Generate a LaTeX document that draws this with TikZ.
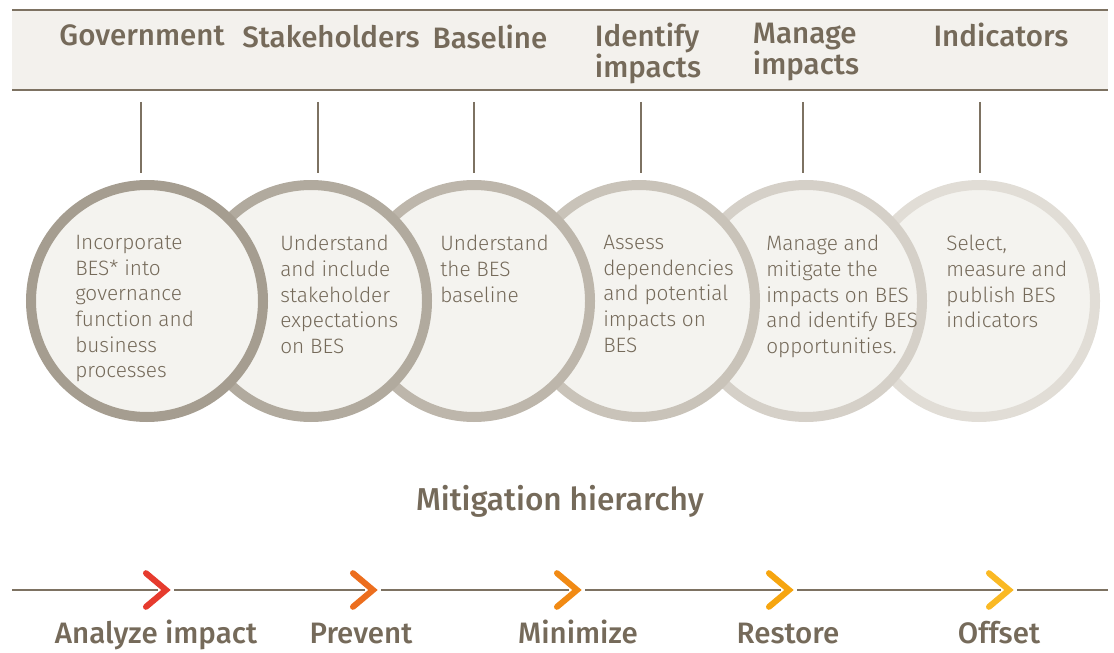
\documentclass[tikz,border=0pt]{standalone}
\usepackage{fontspec}
\setmainfont{Fira Sans}
\newfontfamily\besheadfont{Fira Sans Medium}
\newfontfamily\besbodyfont{Fira Sans Light}
\usepackage{tikz}
\usetikzlibrary{positioning}
\definecolor{besText}{HTML}{756A5A}
\definecolor{besRule}{HTML}{7D7262}
\definecolor{besBand}{HTML}{F3F1ED}
\definecolor{besFill}{HTML}{F4F3EF}
\definecolor{besRingA}{HTML}{A59D90}
\definecolor{besRingB}{HTML}{B1AA9E}
\definecolor{besRingC}{HTML}{BDB6AB}
\definecolor{besRingD}{HTML}{C9C3B9}
\definecolor{besRingE}{HTML}{D5D0C8}
\definecolor{besRingF}{HTML}{E1DDD6}
\definecolor{besChevA}{HTML}{E63B2E}
\definecolor{besChevB}{HTML}{EC6E1E}
\definecolor{besChevC}{HTML}{F18A14}
\definecolor{besChevD}{HTML}{F6A50F}
\definecolor{besChevE}{HTML}{FAB924}
\tikzset{
  beshead/.style={font=\besheadfont\fontsize{21}{20}\selectfont,text=besText,
                  inner sep=0pt,align=left},
  besbody/.style={font=\besbodyfont\fontsize{14.8}{18.2}\selectfont,
                  text=besText,inner sep=0pt,align=left,anchor=north west},
  besring/.style={circle,minimum size=5.8cm,line width=0.25cm,fill=besFill,
                  inner sep=0pt},
  bestick/.style={besRule,line width=1.1pt},
  besrule/.style={besRule,line width=1.4pt},
  beschev/.style={line width=4.3pt,line cap=round,line join=miter}
}

\begin{document}
\begin{tikzpicture}[x=1cm,y=1cm]
    \useasboundingbox (0,0) rectangle (27.85,16.3);

    % header band
    \fill[besBand] (0.3,14.05) rectangle (27.7,16.05);
    \draw[besrule,line width=1.1pt] (0.3,16.05) -- (27.7,16.05);
    \draw[besrule,line width=1.6pt] (0.3,14.05) -- (27.7,14.05);

    \node[beshead,anchor=north] (hgov) at (3.55,15.68) {Government};
    \node[beshead,anchor=north] (hstake) at (8.275,15.68) {Stakeholders};
    \node[beshead,anchor=north] (hbase) at (12.25,15.68) {Baseline};
    \node[beshead,anchor=north] (hident) at (16.2,15.73)
      {Identify\\impacts};
    \node[beshead,anchor=north] (hmanage) at (20.15,15.73)
      {Manage\\impacts};
    \node[beshead,anchor=north] (hind) at (25.025,15.73) {Indicators};

    \foreach \x in {3.525,7.95,11.85,16.025,20.075,24.5}
      \draw[bestick] (\x,13.75) -- (\x,11.975);

    % circles, last one at the back
    \node[besring,draw=besRingF] (c6) at (24.475,8.775) {};
    \node[besring,draw=besRingE] (c5) at (20.15,8.775) {};
    \node[besring,draw=besRingD] (c4) at (15.975,8.775) {};
    \node[besring,draw=besRingC] (c3) at (11.85,8.775) {};
    \node[besring,draw=besRingB] (c2) at (7.775,8.775) {};
    \node[besring,draw=besRingA] (c1) at (3.675,8.775) {};

    \node[besbody] (t1) at (1.875,10.42)
      {Incorporate\\BES* into\\governance\\function and\\business\\processes};
    \node[besbody] (t2) at (7.0,10.42)
      {Understand\\and include\\stakeholder\\expectations\\on BES};
    \node[besbody] (t3) at (11.0,10.42)
      {Understand\\the BES\\baseline};
    \node[besbody] (t4) at (15.075,10.42)
      {Assess\\dependencies\\and potential\\impacts on\\BES};
    \node[besbody] (t5) at (19.15,10.42)
      {Manage and\\mitigate the\\impacts on BES\\and identify BES\\opportunities.};
    \node[besbody] (t6) at (23.65,10.42)
      {Select,\\measure and\\publish BES\\indicators};

    % mitigation hierarchy
    \node[beshead,anchor=base,font=\besheadfont\fontsize{22.5}{24}\selectfont]
      (mh) at (14.0,3.55) {Mitigation hierarchy};

    \coordinate (lstart) at (0.3,1.55);
    \coordinate (lend) at (27.7,1.55);
    \coordinate (m1) at (4.15,1.55);
    \coordinate (m2) at (9.325,1.55);
    \coordinate (m3) at (14.425,1.55);
    \coordinate (m4) at (19.725,1.55);
    \coordinate (m5) at (25.225,1.55);

    \draw[besrule] (lstart) -- ([xshift=-2mm]m1);
    \draw[besrule] ([xshift=2mm]m1) -- ([xshift=-2mm]m2);
    \draw[besrule] ([xshift=2mm]m2) -- ([xshift=-2mm]m3);
    \draw[besrule] ([xshift=2mm]m3) -- ([xshift=-2mm]m4);
    \draw[besrule] ([xshift=2mm]m4) -- ([xshift=-2mm]m5);
    \draw[besrule] ([xshift=2mm]m5) -- (lend);

    \foreach \m/\c in {m1/besChevA,m2/besChevB,m3/besChevC,m4/besChevD,m5/besChevE}
      \draw[beschev,\c] ([shift={(-0.5,0.42)}]\m) -- (\m)
        -- ([shift={(-0.5,-0.42)}]\m);

    \node[beshead,anchor=base] (s1) at (3.9,0.22) {Analyze impact};
    \node[beshead,anchor=base] (s2) at (9.025,0.22) {Prevent};
    \node[beshead,anchor=base] (s3) at (14.45,0.22) {Minimize};
    \node[beshead,anchor=base] (s4) at (19.7,0.22) {Restore};
    \node[beshead,anchor=base] (s5) at (24.975,0.22) {Offset};
  \end{tikzpicture}
\end{document}
